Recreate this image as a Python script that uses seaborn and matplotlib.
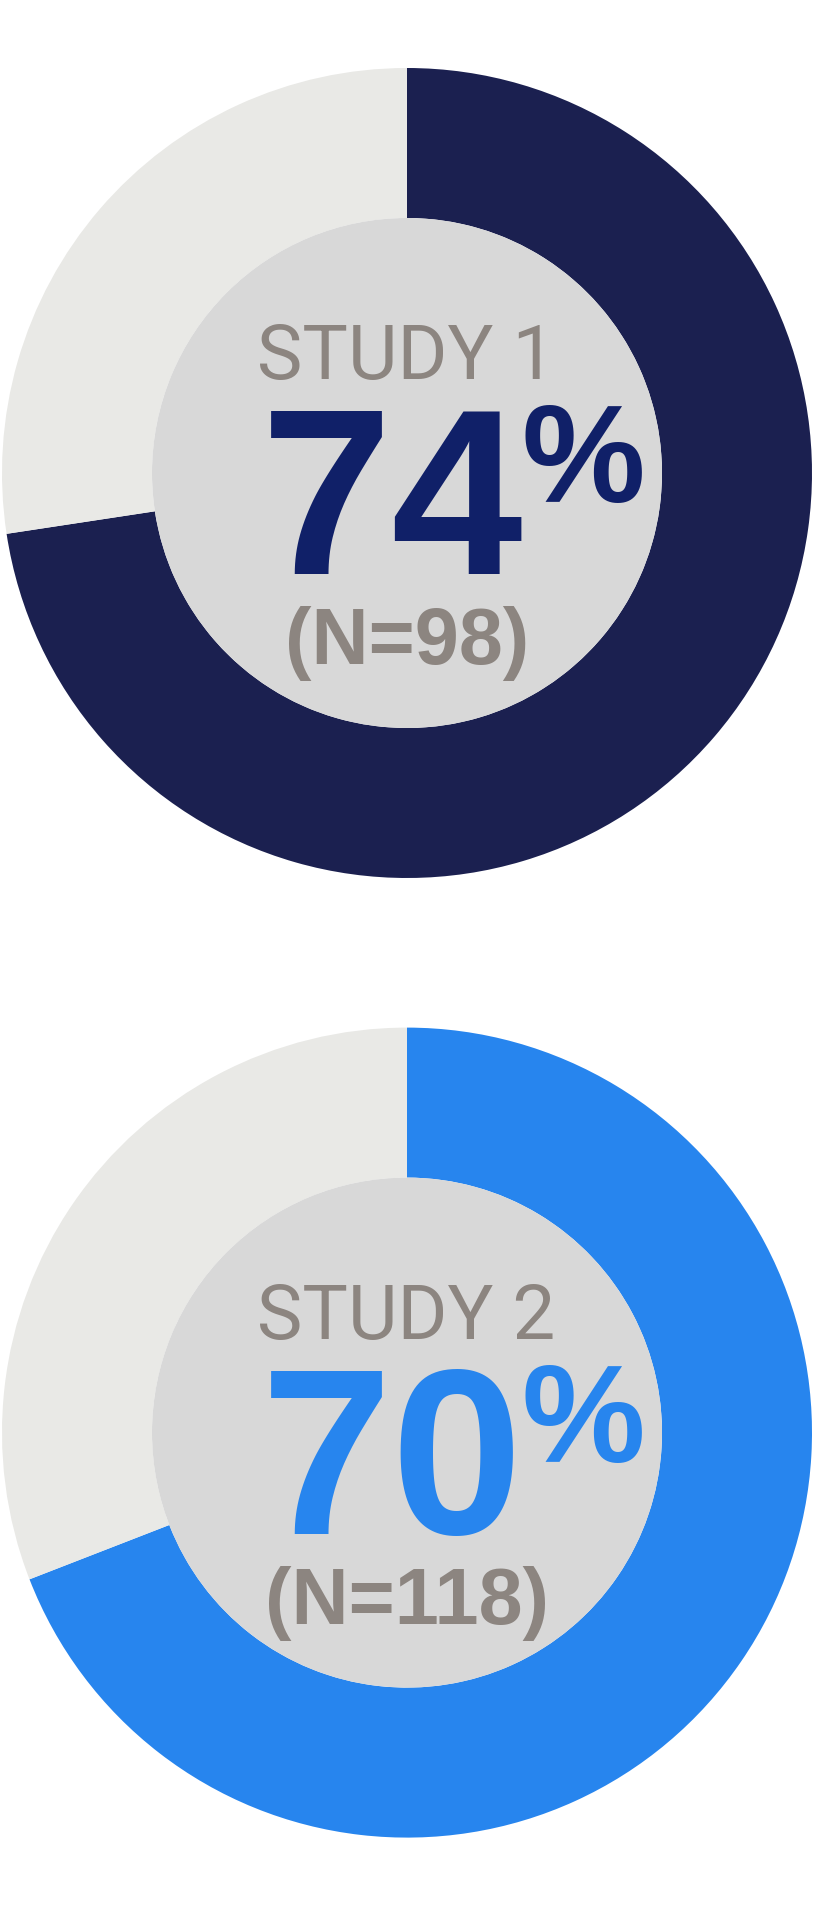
import matplotlib
matplotlib.use("Agg")
import matplotlib.pyplot as plt
import seaborn as sns

# --- data ---
studies = ["STUDY 1", "STUDY 2"]
pct_labels = ["74", "70"]
n_labels = ["(N=98)", "(N=118)"]
# share of the ring that is filled, as drawn (measured from the arc end)
arc_share = [72.6, 69.1]

ring_colors = ["#1B2050", "#2785EE"]
pct_colors = ["#102068", "#2785EE"]
rest_color = "#E9E9E6"
hole_color = "#D8D8D8"
grey_text = "#8C8580"

sns.set_theme(style="white")
plt.rcParams["font.family"] = ["Liberation Sans", "DejaVu Sans"]

W, H = 813, 1908
fig = plt.figure(figsize=(W / 100, H / 100), dpi=100)
fig.patch.set_facecolor("white")

R_OUT, R_IN = 405, 255
centers = [(407, 474), (407, 1433.6)]

for i, (cx, cy) in enumerate(centers):
    ax = fig.add_axes([(cx - R_OUT) / W, (H - cy - R_OUT) / H, 2 * R_OUT / W, 2 * R_OUT / H])
    share = arc_share[i]
    ax.pie([share, 100 - share], colors=[ring_colors[i], rest_color],
           startangle=90, counterclock=False, radius=R_OUT,
           wedgeprops=dict(width=R_OUT - R_IN, linewidth=0))
    ax.pie([1], colors=[hole_color], radius=R_IN, wedgeprops=dict(linewidth=0))
    ax.set_xlim(-R_OUT, R_OUT)
    ax.set_ylim(-R_OUT, R_OUT)
    ax.set_aspect("equal")
    ax.axis("off")

    # text, offsets in pixels from the ring centre (y up)
    ax.text(-1, 95, studies[i], ha="center", va="baseline", fontsize=55,
            color=grey_text, family=["Roboto", "Liberation Sans", "DejaVu Sans"])
    ax.text(-15, -100, pct_labels[i], ha="center", va="baseline", fontsize=170,
            fontweight="bold", color=pct_colors[i])
    ax.text(176, -28, "%", ha="center", va="baseline", fontsize=100,
            fontweight="bold", color=pct_colors[i])
    ax.text(0, -190.5, n_labels[i], ha="center", va="baseline", fontsize=57,
            fontweight="bold", color=grey_text)

fig.savefig("out.png", dpi=100, facecolor="white")
